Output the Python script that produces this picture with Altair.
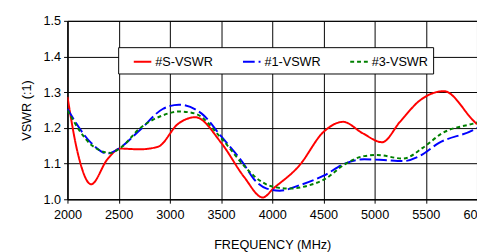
import altair as alt
import pandas as pd

series_names = ["#S-VSWR", "#1-VSWR", "#3-VSWR"]

s_freq = [2000, 2100, 2231, 2390, 2516, 2700, 2883, 3083, 3248, 3502, 3724, 3908, 4010, 4263, 4502, 4692, 4883, 5073, 5248, 5438, 5676, 5962, 6000]
s_vswr = [1.287, 1.13, 1.042, 1.112, 1.142, 1.140, 1.147, 1.212, 1.230, 1.158, 1.063, 1.005, 1.030, 1.094, 1.189, 1.217, 1.185, 1.160, 1.217, 1.276, 1.303, 1.221, 1.21]

b_freq = [2000, 2231, 2390, 2500, 2708, 2930, 3089, 3311, 3502, 3724, 3819, 3946, 4073, 4263, 4502, 4708, 4898, 5089, 5279, 5438, 5629, 5962, 6000]
b_vswr = [1.253, 1.158, 1.128, 1.142, 1.194, 1.253, 1.265, 1.240, 1.176, 1.098, 1.057, 1.030, 1.024, 1.039, 1.066, 1.100, 1.112, 1.110, 1.107, 1.121, 1.158, 1.194, 1.20]

g_freq = [2000, 2231, 2422, 2518, 2708, 2930, 3089, 3248, 3502, 3724, 3819, 4010, 4168, 4359, 4517, 4708, 4898, 5025, 5279, 5470, 5660, 5962, 6000]
g_vswr = [1.249, 1.153, 1.130, 1.144, 1.199, 1.235, 1.246, 1.240, 1.171, 1.094, 1.066, 1.035, 1.030, 1.039, 1.057, 1.098, 1.121, 1.124, 1.114, 1.144, 1.185, 1.212, 1.215]

rows = []
for name, fs, vs in zip(series_names, [s_freq, b_freq, g_freq], [s_vswr, b_vswr, g_vswr]):
    for f, v in zip(fs, vs):
        rows.append({"freq": f, "vswr": v, "series": name})
df = pd.DataFrame(rows)

font = "Liberation Sans"

legend = alt.Legend(
    title=None, orient="none", legendX=52, legendY=27, direction="horizontal",
    fillColor="white", strokeColor="black", padding=5, symbolType="stroke",
    symbolSize=324, symbolStrokeWidth=2, labelFont=font, labelFontSize=13,
    labelColor="black", columnPadding=19, labelOffset=3, cornerRadius=0,
    symbolOffset=10,
)

chart = alt.Chart(df).mark_line(strokeWidth=2, interpolate="monotone", clip=True).encode(
    x=alt.X("freq:Q", title="FREQUENCY (MHz)",
            scale=alt.Scale(domain=[2000, 6000], nice=False),
            axis=alt.Axis(values=[2000, 2500, 3000, 3500, 4000, 4500, 5000, 5500, 6000], format="d")),
    y=alt.Y("vswr:Q", title="VSWR (:1)",
            scale=alt.Scale(domain=[1.0, 1.5], nice=False),
            axis=alt.Axis(values=[1.0, 1.1, 1.2, 1.3, 1.4, 1.5], format=".1f")),
    color=alt.Color("series:N", scale=alt.Scale(domain=series_names, range=["#ff0000", "#0000ff", "#008000"]),
                    legend=legend, sort=series_names),
    strokeDash=alt.StrokeDash("series:N", scale=alt.Scale(domain=series_names, range=[[1, 0], [12, 4], [4, 3]]),
                              legend=legend, sort=series_names),
    order=alt.Order("freq:Q"),
).properties(
    width=420, height=183,
    autosize=alt.AutoSizeParams(type="none"),
    padding={"left": 61, "top": 10, "right": 0, "bottom": 55},
).configure_axis(
    gridColor="black", gridOpacity=1, gridWidth=1, domainColor="black", tickColor="black",
    tickSize=4, labelFont=font, labelFontSize=13, labelColor="black",
    titleFont=font, titleFontSize=13, titleFontWeight="normal", titleColor="black",
).configure_axisX(labelPadding=6, titlePadding=17, labelFlush=False).configure_axisY(labelPadding=3, titlePadding=10).configure_view(
    stroke="black", strokeWidth=1
)

chart.save("out.html", embed_options={"renderer": "svg", "actions": False})
